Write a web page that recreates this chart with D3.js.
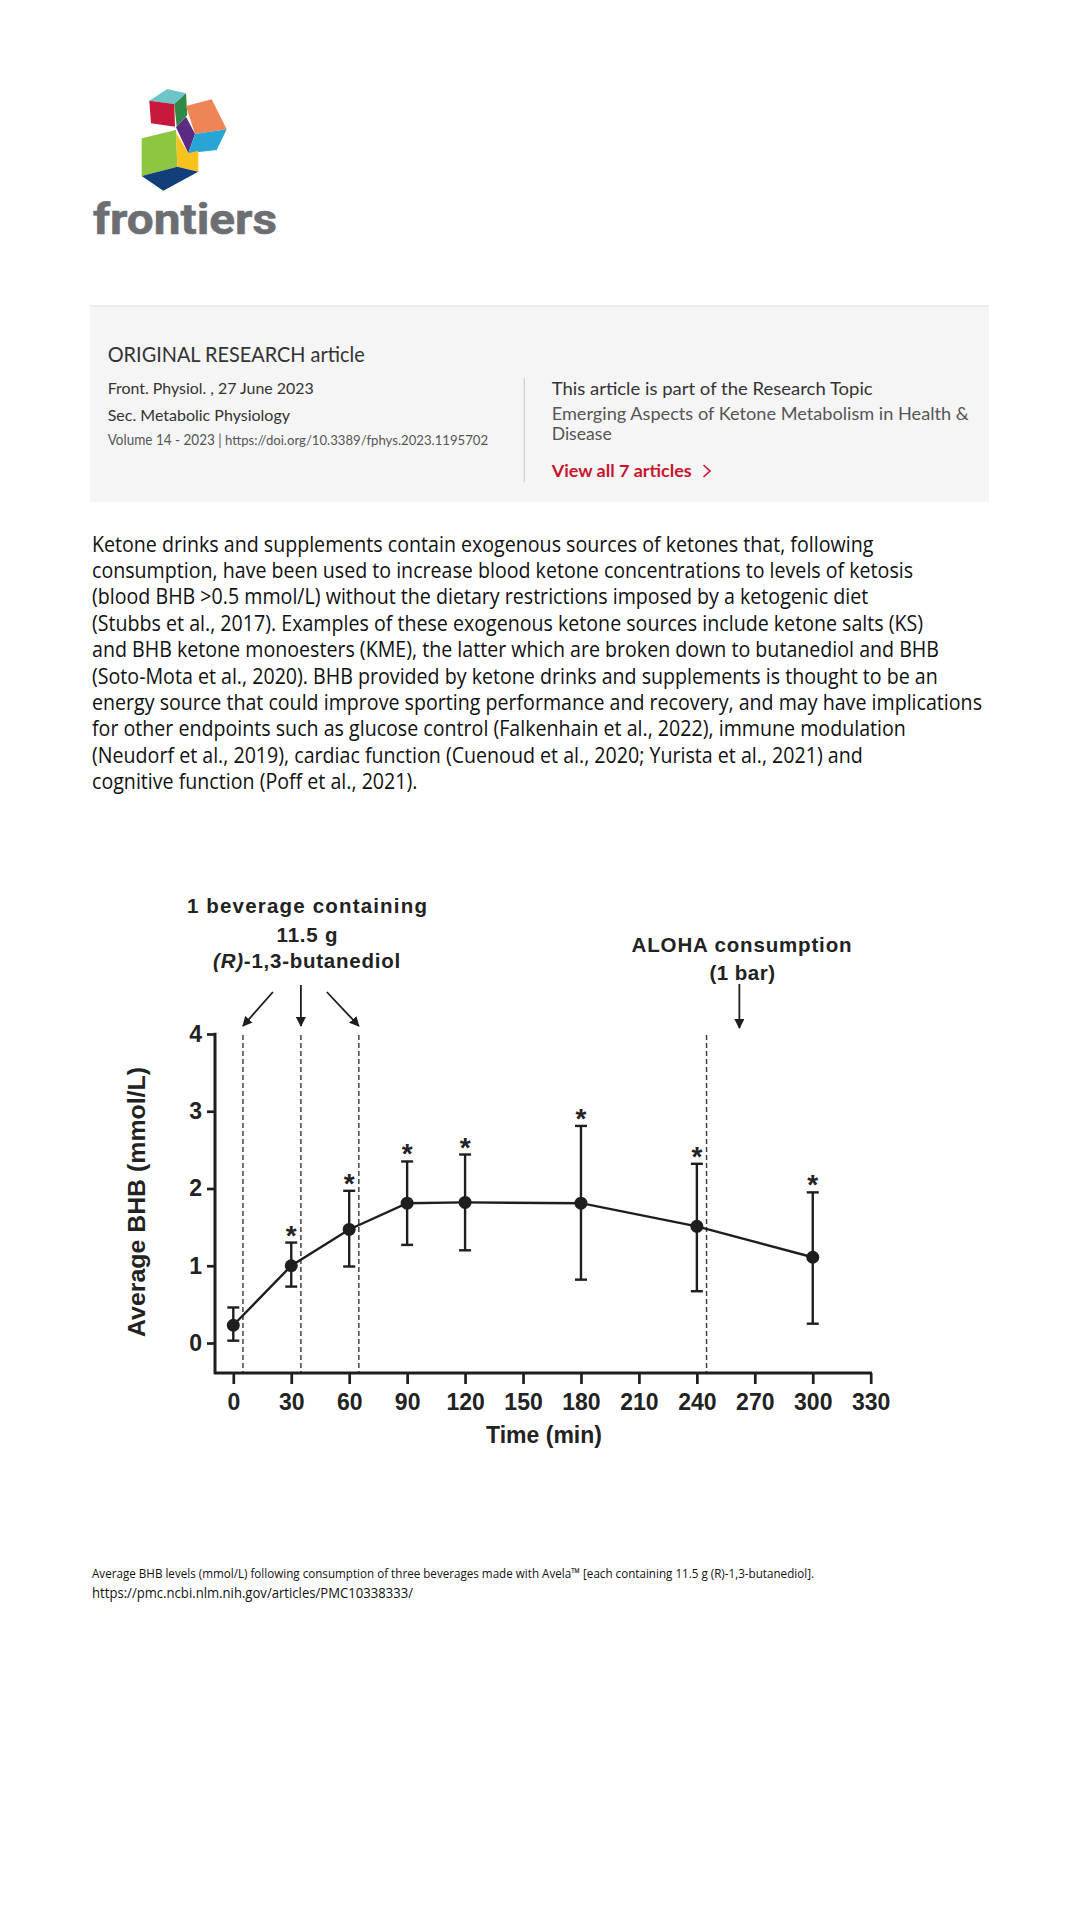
<!DOCTYPE html>
<html>
<head>
<meta charset="utf-8">
<script src="https://cdn.jsdelivr.net/npm/d3@7"></script>
<style>
  html, body { margin: 0; padding: 0; background: #ffffff; }
  svg { display: block; }
</style>
</head>
<body>
<svg id="page" width="1080" height="1920"></svg>
<script>
// ---------------- DATA ----------------
const times        = [0, 30, 60, 90, 120, 180, 240, 300];
const meanBHB      = [0.23, 1.00, 1.47, 1.81, 1.82, 1.81, 1.51, 1.11];
const upperBHB     = [0.46, 1.30, 1.97, 2.35, 2.44, 2.81, 2.32, 1.95];
const lowerBHB     = [0.03, 0.73, 0.99, 1.27, 1.20, 0.82, 0.67, 0.25];
const significant  = [false, true, true, true, true, true, true, true];
const beverageTimes = [5, 35, 65];
const alohaLineTime = 245;
const alohaArrowTime = 262;
const xTickValues  = [0, 30, 60, 90, 120, 150, 180, 210, 240, 270, 300, 330];
const yTickValues  = [0, 1, 2, 3, 4];
const xAxisTitle   = "Time (min)";
const yAxisTitle   = "Average BHB (mmol/L)";
const beverageNote = ["1 beverage containing", "11.5 g", "-1,3-butanediol"];
const alohaNote    = ["ALOHA consumption", "(1 bar)"];

const paragraphLines = [
  "Ketone drinks and supplements contain exogenous sources of ketones that, following",
  "consumption, have been used to increase blood ketone concentrations to levels of ketosis",
  "(blood BHB >0.5 mmol/L) without the dietary restrictions imposed by a ketogenic diet",
  "(Stubbs et al., 2017). Examples of these exogenous ketone sources include ketone salts (KS)",
  "and BHB ketone monoesters (KME), the latter which are broken down to butanediol and BHB",
  "(Soto-Mota et al., 2020). BHB provided by ketone drinks and supplements is thought to be an",
  "energy source that could improve sporting performance and recovery, and may have implications",
  "for other endpoints such as glucose control (Falkenhain et al., 2022), immune modulation",
  "(Neudorf et al., 2019), cardiac function (Cuenoud et al., 2020; Yurista et al., 2021) and",
  "cognitive function (Poff et al., 2021)."
];
const captionLines = [
  "Average BHB levels (mmol/L) following consumption of three beverages made with Avela\u2122 [each containing 11.5 g (R)-1,3-butanediol].",
  "https://pmc.ncbi.nlm.nih.gov/articles/PMC10338333/"
];

// ---------------- HELPERS ----------------
const svg = d3.select("#page");
function fit(sel, w) {
  sel.each(function () {
    const n = this.getComputedTextLength();
    if (Math.abs(n - w) > 1) {
      this.setAttribute("textLength", w);
      this.setAttribute("lengthAdjust", "spacingAndGlyphs");
    }
  });
  return sel;
}
function spread(sel, w) {
  sel.each(function () {
    const n = this.getComputedTextLength();
    const len = this.textContent.length;
    if (len > 1) this.setAttribute("letter-spacing", ((w - n) / (len - 1)).toFixed(2));
  });
  return sel;
}

// ---------------- LOGO ----------------
const logo = svg.append("g");
const cubes = [
  { c: "#6cc6c9", p: [[149.3,100.7],[167.3,89],[186,93.3],[174.3,104]] },
  { c: "#c8193a", p: [[149.3,100.7],[174.3,104],[175,126.7],[151,123.3]] },
  { c: "#2f8a47", p: [[174.3,104],[186,93.3],[187.3,115],[176.7,126.7]] },
  { c: "#ef8556", p: [[186,106],[211.7,99.3],[226.7,129.3],[195,134]] },
  { c: "#5b2b83", p: [[176,127.3],[186,116.7],[195,134],[188.3,153.3]] },
  { c: "#27a6d6", p: [[195,134],[226.7,129.3],[216.7,150],[188.3,153.3]] },
  { c: "#8dc63f", p: [[141.7,138.3],[176,130],[177.3,166.7],[141.7,176]] },
  { c: "#f8c21c", p: [[176,132.7],[188.3,153.3],[198.3,150.7],[198.3,171.7],[177.3,166.7]] },
  { c: "#123f7a", p: [[141.7,176],[177.3,166.7],[198.3,171.7],[163.3,190.7]] }
];
logo.selectAll("polygon").data(cubes).join("polygon")
  .attr("points", d => d.p.map(q => q.join(",")).join(" "))
  .attr("fill", d => d.c);
fit(logo.append("text").attr("x", 93).attr("y", 234)
  .attr("font-family", "Roboto, 'Liberation Sans', sans-serif").attr("font-weight", 700)
  .attr("font-size", 43).attr("fill", "#6d6e71").attr("stroke", "#6d6e71").attr("stroke-width", 0.6)
  .text("frontiers"), 184);

// ---------------- INFO BOX ----------------
const box = svg.append("g");
box.append("rect").attr("x", 90).attr("y", 306).attr("width", 899).attr("height", 196).attr("fill", "#f5f5f5");
box.append("line").attr("x1", 90).attr("x2", 989).attr("y1", 306).attr("y2", 306).attr("stroke", "#e6e6e6").attr("stroke-width", 1.5);
box.append("line").attr("x1", 524.3).attr("x2", 524.3).attr("y1", 378).attr("y2", 482).attr("stroke", "#cfcfcf").attr("stroke-width", 1.2);
const ff = "Lato, 'Noto Sans', sans-serif";
const boxTexts = [
  { t: "ORIGINAL RESEARCH article", x: 107.7, y: 361.7, s: 20.5, w: 257, c: "#333333", fw: 400 },
  { t: "Front. Physiol. , 27 June 2023", x: 107.7, y: 394, s: 16, w: 206, c: "#333333", fw: 400 },
  { t: "Sec. Metabolic Physiology", x: 107.7, y: 420.7, s: 16, w: 182, c: "#333333", fw: 400 },
  { t: "Volume 14 - 2023 |", x: 107.7, y: 445, s: 14.5, w: 114, c: "#555555", fw: 400 },
  { t: "https://doi.org/10.3389/fphys.2023.1195702", x: 225, y: 445, s: 13, w: 263, c: "#555555", fw: 400 },
  { t: "This article is part of the Research Topic", x: 551.7, y: 395, s: 17.5, w: 321, c: "#333333", fw: 400 },
  { t: "Emerging Aspects of Ketone Metabolism in Health &", x: 551.7, y: 420, s: 17, w: 417, c: "#555555", fw: 400 },
  { t: "Disease", x: 551.7, y: 440, s: 17, w: 60, c: "#555555", fw: 400 },
  { t: "View all 7 articles", x: 551.7, y: 476.7, s: 17.5, w: 140, c: "#c8142f", fw: 700 }
];
boxTexts.forEach(d => {
  fit(box.append("text").attr("x", d.x).attr("y", d.y).attr("font-family", ff)
    .attr("font-size", d.s).attr("font-weight", d.fw).attr("fill", d.c).text(d.t), d.w);
});
box.append("path").attr("d", "M703.5,465 L710,471 L703.5,477").attr("fill", "none")
  .attr("stroke", "#c8142f").attr("stroke-width", 1.6);

// ---------------- PARAGRAPH ----------------
const para = svg.append("g").attr("font-family", "'Open Sans', 'Noto Sans', sans-serif")
  .attr("font-size", 21.5).attr("fill", "#111111");
const pTexts = para.selectAll("text").data(paragraphLines).join("text")
  .attr("x", 92).attr("y", (d, i) => 551.5 + i * 26.4).text(d => d);
const nat = pTexts.nodes().map(n => n.getComputedTextLength());
const k = 890 / nat[6];
pTexts.each(function (d, i) {
  this.setAttribute("textLength", nat[i] * k);
  this.setAttribute("lengthAdjust", "spacingAndGlyphs");
});

// ---------------- CHART ----------------
const chart = svg.append("g").attr("font-family", "'Liberation Sans', Arial, sans-serif")
  .attr("font-weight", 700).attr("fill", "#222222");
const x = d3.scaleLinear().domain([0, 330]).range([233.3, 870.7]);
const y = d3.scaleLinear().domain([0, 4]).range([1343, 1034]);
const axisY0 = 1373, axisX0 = 215;
const ink = "#1e1e1e";

// dashed event lines
chart.selectAll("line.ev").data(beverageTimes.concat([alohaLineTime])).join("line")
  .attr("class", "ev")
  .attr("x1", d => x(d)).attr("x2", d => x(d))
  .attr("y1", y(4) + 1).attr("y2", axisY0)
  .attr("stroke", "#333").attr("stroke-width", 1.4).attr("stroke-dasharray", "5,3");

// x axis
const xg = chart.append("g").attr("transform", `translate(0,${axisY0})`)
  .call(d3.axisBottom(x).tickValues(xTickValues).tickSize(11).tickSizeOuter(0).tickPadding(9.5));
xg.select(".domain").remove();
xg.append("line").attr("x1", axisX0).attr("x2", x(330) + 1.3).attr("stroke", ink).attr("stroke-width", 3);
xg.selectAll(".tick line").attr("stroke", ink).attr("stroke-width", 2.7);
xg.selectAll(".tick text").attr("fill", "#222").attr("font-size", 23)
  .attr("font-family", "'Liberation Sans', Arial, sans-serif").attr("font-weight", 700);

// y axis
const yg = chart.append("g").attr("transform", `translate(${axisX0},0)`)
  .call(d3.axisLeft(y).tickValues(yTickValues).tickSize(8).tickSizeOuter(0).tickPadding(5).tickFormat(d3.format("d")));
yg.select(".domain").remove();
yg.append("line").attr("y1", y(4) - 1.3).attr("y2", axisY0 + 1.3).attr("stroke", ink).attr("stroke-width", 3);
yg.selectAll(".tick line").attr("stroke", ink).attr("stroke-width", 2.7);
yg.selectAll(".tick text").attr("fill", "#222").attr("font-size", 23)
  .attr("font-family", "'Liberation Sans', Arial, sans-serif").attr("font-weight", 700);

// axis titles
chart.append("text").attr("x", 544).attr("y", 1443).attr("text-anchor", "middle")
  .attr("font-size", 23).text(xAxisTitle);
fit(chart.append("text").attr("transform", "translate(145,1202) rotate(-90)").attr("text-anchor", "middle")
  .attr("font-size", 24).text(yAxisTitle), 270);

// data
const pts = times.map((t, i) => ({ t, m: meanBHB[i], hi: upperBHB[i], lo: lowerBHB[i], s: significant[i] }));
chart.append("path").datum(pts)
  .attr("d", d3.line().x(d => x(d.t)).y(d => y(d.m)))
  .attr("fill", "none").attr("stroke", ink).attr("stroke-width", 2.4);
const eb = chart.selectAll("g.eb").data(pts).join("g").attr("class", "eb");
eb.append("line").attr("x1", d => x(d.t)).attr("x2", d => x(d.t))
  .attr("y1", d => y(d.hi)).attr("y2", d => y(d.lo)).attr("stroke", ink).attr("stroke-width", 2.4);
eb.append("line").attr("x1", d => x(d.t) - 6).attr("x2", d => x(d.t) + 6)
  .attr("y1", d => y(d.hi)).attr("y2", d => y(d.hi)).attr("stroke", ink).attr("stroke-width", 2.4);
eb.append("line").attr("x1", d => x(d.t) - 6).attr("x2", d => x(d.t) + 6)
  .attr("y1", d => y(d.lo)).attr("y2", d => y(d.lo)).attr("stroke", ink).attr("stroke-width", 2.4);
eb.append("circle").attr("cx", d => x(d.t)).attr("cy", d => y(d.m)).attr("r", 6.5).attr("fill", ink);
chart.selectAll("text.star").data(pts.filter(d => d.s)).join("text").attr("class", "star")
  .attr("x", d => x(d.t)).attr("y", d => y(d.hi) + 2).attr("text-anchor", "middle")
  .attr("font-size", 28).text("*");

// annotations
const defs = svg.append("defs");
defs.append("marker").attr("id", "ah").attr("viewBox", "0 0 10 10").attr("refX", 9).attr("refY", 5)
  .attr("markerWidth", 10).attr("markerHeight", 10).attr("markerUnits", "userSpaceOnUse")
  .attr("orient", "auto").append("path").attr("d", "M0,0 L10,5 L0,10 Z").attr("fill", ink);
spread(chart.append("text").attr("x", 307.5).attr("y", 913).attr("text-anchor", "middle")
  .attr("font-size", 20.5).text(beverageNote[0]), 240);
chart.append("text").attr("x", 307.5).attr("y", 942).attr("text-anchor", "middle")
  .attr("font-size", 20.5).attr("letter-spacing", 0.8).text(beverageNote[1]);
const bt = chart.append("text").attr("x", 307).attr("y", 968).attr("text-anchor", "middle").attr("font-size", 20.5);
bt.append("tspan").attr("font-style", "italic").text("(R)");
bt.append("tspan").text(beverageNote[2]);
spread(bt, 187);
const arrowSpecs = [
  { tip: beverageTimes[0], dx: 30, y0: 992 },
  { tip: beverageTimes[1], dx: 0, y0: 985 },
  { tip: beverageTimes[2], dx: -32, y0: 992 }
];
chart.selectAll("line.arr").data(arrowSpecs).join("line").attr("class", "arr")
  .attr("x1", d => x(d.tip) + d.dx).attr("y1", d => d.y0)
  .attr("x2", d => x(d.tip)).attr("y2", 1026)
  .attr("stroke", ink).attr("stroke-width", 1.8).attr("marker-end", "url(#ah)");
spread(chart.append("text").attr("x", 742).attr("y", 952).attr("text-anchor", "middle")
  .attr("font-size", 20.5).text(alohaNote[0]), 220);
chart.append("text").attr("x", 742.5).attr("y", 980).attr("text-anchor", "middle")
  .attr("font-size", 20.5).attr("letter-spacing", 0.5).text(alohaNote[1]);
chart.append("line").attr("x1", x(alohaArrowTime)).attr("x2", x(alohaArrowTime))
  .attr("y1", 984).attr("y2", 1028).attr("stroke", ink).attr("stroke-width", 1.8).attr("marker-end", "url(#ah)");

// ---------------- CAPTION ----------------
const cap = svg.append("g").attr("font-family", "'Open Sans', 'Noto Sans', sans-serif").attr("fill", "#111");
fit(cap.append("text").attr("x", 92).attr("y", 1578).attr("font-size", 13.5).text(captionLines[0]), 722);
fit(cap.append("text").attr("x", 92).attr("y", 1598).attr("font-size", 14.5).text(captionLines[1]), 321);
</script>
</body>
</html>
